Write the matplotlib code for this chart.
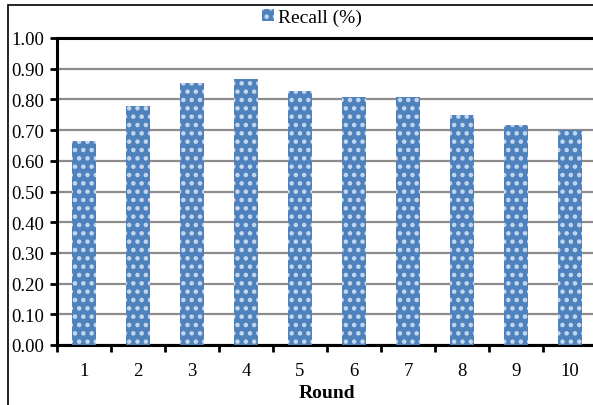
import numpy as np
import matplotlib.pyplot as plt
from matplotlib.patches import Rectangle

plt.rcParams['font.family'] = 'Liberation Serif'
plt.rcParams['hatch.linewidth'] = 2.0

# Recall per round
rounds = ['1', '2', '3', '4', '5', '6', '7', '8', '9', '10']
recall = [0.665, 0.78, 0.853, 0.866, 0.827, 0.808, 0.808, 0.75, 0.716, 0.70]
y_ticks = [0.0, 0.1, 0.2, 0.3, 0.4, 0.5, 0.6, 0.7, 0.8, 0.9, 1.0]

W, H = 593, 406
fig = plt.figure(figsize=(W / 100, H / 100), dpi=100)
fig.patch.set_facecolor('white')

# outer chart frame
fig.patches.append(Rectangle((8 / W, -0.05), 1.2, 1 - 6 / H + 0.05,
                             transform=fig.transFigure, fill=False,
                             edgecolor='black', linewidth=1.2, clip_on=False))

ax = fig.add_axes([57 / W, 60 / H, 540 / W, 307 / H])

x = np.arange(len(rounds))
bars = ax.bar(x, recall, width=0.44, color='#4f81bd', edgecolor='#c5d8f0',
              linewidth=0, hatch='..', label='Recall (%)', zorder=3)

ax.set_xlim(-0.5, len(rounds) - 0.5)
ax.set_ylim(0, 1.0)
ax.set_yticks(y_ticks)
ax.set_yticklabels([f'{v:.2f}' for v in y_ticks], fontsize=13.5)
ax.set_xticks(x)
ax.set_xticklabels(rounds, fontsize=13.5)
ax.set_xticks(np.arange(-0.5, len(rounds)), minor=True)

ax.tick_params(axis='x', which='major', length=0, pad=12)
ax.tick_params(axis='x', which='minor', length=5, width=2, direction='out')
ax.tick_params(axis='y', length=5, width=2, direction='out', pad=4)

ax.grid(True, axis='y', color='#8c8c8c', linewidth=1.6, zorder=0)
for side in ['left', 'bottom', 'top']:
    ax.spines[side].set_linewidth(2.2)
    ax.spines[side].set_color('black')
ax.spines['right'].set_visible(False)

ax.set_xlabel('Round', fontsize=14, fontweight='bold', labelpad=4)

fig.legend(handles=[bars], loc='center', bbox_to_anchor=(312 / W, 1 - 18 / H),
           frameon=False, fontsize=14, handlelength=0.6, handleheight=0.6,
           handletextpad=0.2)

fig.savefig('out.png', dpi=100, facecolor='white')
